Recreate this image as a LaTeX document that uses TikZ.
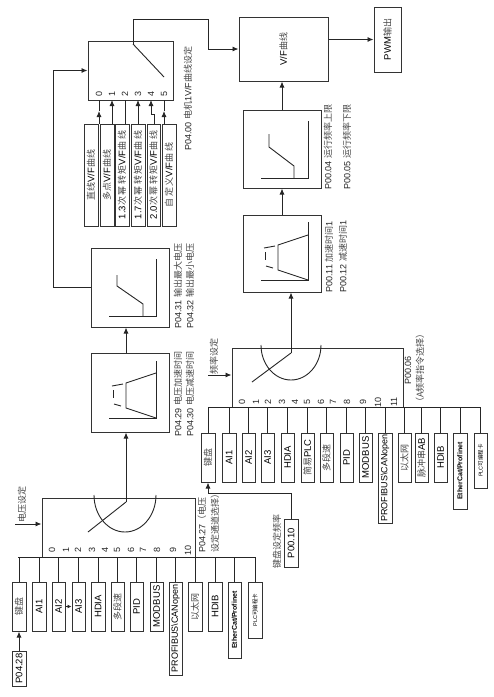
\documentclass[tikz,border=0pt]{standalone}
\usepackage{fontspec}
\setmainfont{Liberation Sans}
\newfontfamily\cjk{Noto Sans CJK SC}
\newfontfamily\cjkwide[LetterSpace=17]{Noto Sans CJK SC}
\usetikzlibrary{arrows.meta}
\newcommand{\cn}[1]{{\cjk\fontsize{9}{10}\selectfont\color{black!72}#1}}
\newcommand{\cw}[1]{{\cjkwide\fontsize{9}{10}\selectfont\color{black!72}#1}}
\tikzset{
  x=1pt,y=-1pt,
  ink/.style={draw=black!85,line width=0.9pt},
  arr/.style={draw=black!85,line width=0.9pt,-{Latex[length=6pt,width=5pt]}},
  cell/.style={draw=black!80,line width=1pt,fill=white,rotate=90,inner sep=0pt,anchor=center},
  lab/.style={rotate=90,inner sep=0pt,font=\fontsize{9.5}{10}\selectfont,text=black!85},
  num/.style={rotate=90,inner sep=0pt,font=\fontsize{9}{10}\selectfont,text=black!85},
  note/.style={rotate=90,inner sep=0pt,anchor=west,font=\fontsize{9}{10}\selectfont,text=black!85},
}
% \cbox{name}{x0}{x1}{y0}{y1}{text}
\newcommand{\cbox}[6]{\node[cell,minimum width=#5pt-#4pt,minimum height=#3pt-#2pt] (#1) at ({(#2+#3)/2},{(#4+#5)/2}) {\fontsize{9.5}{10}\selectfont #6};}
\begin{document}
\begin{tikzpicture}
\useasboundingbox (0,0) rectangle (494,697);
% ---------- Output ----------
\cbox{pwm}{374}{401}{7}{72}{PWM\cn{输出}}
\cbox{vf}{239}{328}{17}{81}{V/F\cn{曲线}}
\draw[arr] (vf.south |- pwm.center) -- (pwm.north |- pwm.center);
% ---------- Freq chain ----------
\cbox{lim}{243}{321}{110}{188}{}
\cbox{acc}{243}{321}{215}{292}{}
\draw[arr] (lim.east) -- (lim.east |- vf.west);
\draw[arr] (acc.east) -- (lim.west);
% lim inner
\draw[ink] (261,178) -- (308,178) -- (308,121);
\draw[ink] (294,178) -- (294,166) -- (269,147) -- (269,134);
% acc inner
\draw[ink] (261,280) -- (308,280) -- (308,222);
\draw[ink] (308,280) -- (278,270) -- (278,245) -- (308,235);
\draw[ink] (266,266) -- (273,268);
\draw[ink] (265,252) -- (265,260);
\draw[ink] (264,248) -- (275,246);
\node[note] at (328,190) {P00.04 \cn{运行频率上限}};
\node[note] at (347,190) {P00.05 \cn{运行频率下限}};
\node[note] at (329,293) {P00.11 \cn{加速时间}1};
\node[note] at (343,293) {P00.12 \cn{减速时间}1};
% ---------- Freq selector ----------
\cbox{fsel}{232}{403}{348}{407}{}
\coordinate (fbus) at (208,407);
\coordinate (fpiv) at (291,353);
\draw[ink] (208,407) -- (481,407);
\draw[ink] (261,345) arc[start angle=180,end angle=360,x radius=30pt,y radius=35pt];
\draw[ink] (252,382) -- (fpiv);
\draw[arr] (fpiv) -- (fpiv |- acc.west);
\coordinate (fin) at (208,375);
\draw[arr] (fin) -- (fin -| fsel.north);
\node[lab] at (214,356) {\cn{频率设定}};
\node[note] at (408,385) {P00.06};
\node[note] at (420,407) {\cn{（A频率指令选择）}};
\foreach \t [count=\i from 0] in {242,256,268,282,295,307,321,333,347,363,378,394} {
  \node[num] at (\t,402) {\i};
}
\cbox{fa}{201}{215}{433}{482}{\cn{键盘}}
\cbox{fb}{222}{236}{433}{482}{AI1}
\cbox{fc}{242}{255}{433}{482}{AI2}
\cbox{fd}{261}{274}{433}{482}{AI3}
\cbox{fe}{281}{294}{433}{482}{HDIA}
\cbox{ff}{301}{314}{433}{482}{\cn{简易}PLC}
\cbox{fg}{320}{333}{433}{482}{\cn{多段速}}
\cbox{fh}{340}{353}{433}{482}{PID}
\cbox{fi}{359}{372}{433}{482}{MODBUS}
\cbox{fj}{378}{392}{433}{523}{\fontsize{9}{10}\selectfont PROFIBUS\textbackslash CANopen}
\cbox{fk}{398}{411}{433}{482}{\cn{以太网}}
\cbox{fl}{415}{428}{433}{482}{\cn{脉冲串}AB}
\cbox{fm}{434}{447}{433}{482}{HDIB}
\cbox{fn}{453}{467}{433}{509}{\fontsize{7}{8}\selectfont\bfseries EtherCat/Profinet}
\cbox{fo}{474}{487}{433}{488}{\fontsize{5.5}{6}\selectfont PLC{\cjk\fontsize{5.5}{6}\selectfont 可编程卡}}
\foreach \n in {fa,fb,fc,fd,fe,ff,fg,fh,fi,fj,fk,fl,fm,fn,fo} {
  \draw[ink] (\n.east) -- (\n.east |- fbus);
}
\cbox{kp}{284}{298}{519}{567}{P00.10}
\coordinate (kbend) at (291,493);
\draw[arr] (kp.east) -- (kbend) -- (kbend -| fa.west) -- (fa.west);
\node[lab] at (277,541) {\cn{键盘设定频率}};
% ---------- Voltage chain ----------
\cbox{vmax}{91}{169}{248}{327}{}
\cbox{vacc}{91}{169}{353}{432}{}
\coordinate (vx) at (126,340);
\draw[arr] (vx |- vacc.east) -- (vx |- vmax.west);
\draw[ink] (109,316) -- (156,316) -- (156,259);
\draw[ink] (143,316) -- (143,304) -- (117,286) -- (117,275);
\draw[ink] (109,418) -- (156,418) -- (156,361);
\draw[ink] (156,418) -- (126,408) -- (126,383) -- (156,373);
\draw[ink] (114,404) -- (121,406);
\draw[ink] (113,390) -- (113,398);
\draw[ink] (112,386) -- (123,384);
\node[note] at (178,437) {P04.29 \cn{电压加速时间}};
\node[note] at (190,437) {P04.30 \cn{电压减速时间}};
\node[note] at (178,329) {P04.31 \cn{输出最大电压}};
\node[note] at (190,329) {P04.32 \cn{输出最小电压}};
% ---------- Voltage selector ----------
\cbox{vsel}{42}{195}{498}{557}{}
\coordinate (vbus) at (18,557);
\coordinate (vpiv) at (126,502);
\draw[ink] (18,557) -- (255,557);
\draw[ink] (94,495) arc[start angle=180,end angle=360,x radius=31pt,y radius=37pt];
\draw[ink] (88,532) -- (vpiv);
\draw[arr] (vpiv) -- (vpiv |- vacc.west);
\coordinate (vin) at (15,524);
\draw[arr] (vin) -- (vin -| vsel.north);
\node[lab] at (22,504) {\cn{电压设定}};
\node[note] at (202,553) {P04.27\cn{（电压}};
\node[note] at (215,553) {\cn{设定通道选择）}};
\foreach \t [count=\i from 0] in {52,66,78,92,105,117,131,143,157,173,188} {
  \node[num] at (\t,550) {\i};
}
\cbox{va}{12}{26}{582}{631}{\cn{键盘}}
\cbox{vb}{32}{46}{582}{631}{AI1}
\cbox{vc}{52}{65}{582}{631}{AI2}
\cbox{vd}{72}{85}{582}{631}{AI3}
\cbox{ve}{91}{105}{582}{631}{HDIA}
\cbox{vg2}{111}{124}{582}{631}{\cn{多段速}}
\cbox{vg}{130}{143}{582}{631}{PID}
\cbox{vh}{150}{163}{582}{631}{MODBUS}
\cbox{vi}{169}{182}{582}{675}{\fontsize{9}{10}\selectfont PROFIBUS\textbackslash CANopen}
\cbox{vj}{188}{202}{582}{631}{\cn{以太网}}
\cbox{vk}{208}{222}{582}{631}{HDIB}
\cbox{vl}{228}{241}{582}{658}{\fontsize{7}{8}\selectfont\bfseries EtherCat/Profinet}
\cbox{vm}{248}{262}{582}{638}{\fontsize{5.5}{6}\selectfont PLC{\cjk\fontsize{5.5}{6}\selectfont 可编程卡}}
\foreach \n in {va,vb,vc,vd,ve,vg2,vg,vh,vi,vj,vk,vl,vm} {
  \draw[ink] (\n.east) -- (\n.east |- vbus);
}
\draw[arr,-{Latex[length=4pt,width=4pt]}] (vc.south) -- (vd.north);
\cbox{pk}{12}{26}{651}{686}{P04.28}
\draw[arr] (pk.east) -- (va.west);
% ---------- V/F select ----------
\cbox{sw}{88}{173}{41}{100}{}
\coordinate (swp) at (133,44);
\coordinate (b1) at (133,19);
\coordinate (b2) at (208,19);
\coordinate (b3) at (208,49);
\draw[ink] (swp) -- (164,77);
\draw[arr] (swp) -- (b1) -- (b2) -- (b3) -- (vf.north);
\coordinate (vbend) at (53,70.5);
\draw[arr] (vmax.north) -- (vmax.north -| vbend) -- (vbend) -- (sw.north);
\node[note] at (188,151) {P04.00 \cn{电机}1V/F\cn{曲线设定}};
\foreach \t [count=\i from 0] in {99,112,125,138,151,164} {
  \node[num] at (\t,94) {\i};
  \coordinate (in\i) at (\t,100);
}
\cbox{ca}{84}{98}{124}{226}{\cn{直线}V/F\cn{曲线}}
\cbox{cb}{100}{114}{124}{226}{\cn{多点}V/F\cn{曲线}}
\cbox{cc}{115}{129}{124}{226}{1.3\cw{次幂转矩}V/F\cw{曲线}}
\cbox{cd}{131}{145}{124}{226}{1.7\cw{次幂转矩}V/F\cw{曲线}}
\cbox{ce}{147}{160}{124}{226}{2.0\cw{次幂转矩}V/F\cw{曲线}}
\cbox{cf}{162}{176}{124}{226}{\cw{自定义}V/F\cw{曲线}}
\draw[ink] (in2 |- ca.east) -- (in2);
\coordinate (m0) at (99,111);
\coordinate (m5) at (164,111);
\draw[arr] (in0 |- ca.east) -- (m0);
\draw[ink] (m0) -- (in0);
\draw[arr] (in5 |- cf.east) -- (m5);
\draw[ink] (m5) -- (in5);
\draw[arr] (in1 |- cb.east) -- (in1);
\draw[arr] (in3 |- cd.east) -- (in3);
\coordinate (j1) at (154,114);
\coordinate (j2) at (151,114);
\draw[arr] (ce.east -| j1) -- (j1) -- (j2) -- (in4);
\end{tikzpicture}
\end{document}
